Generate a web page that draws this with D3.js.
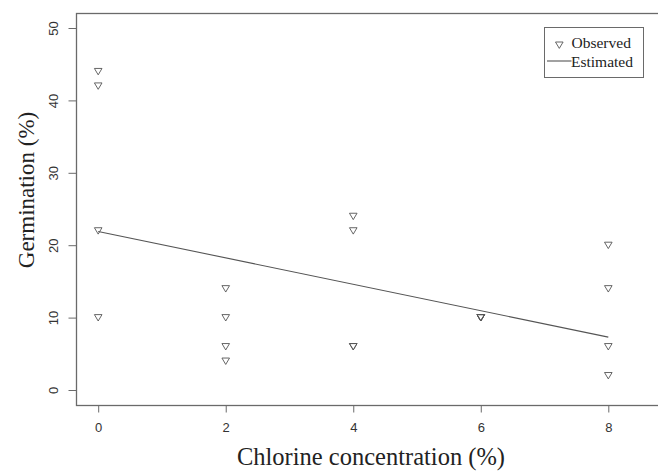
<!DOCTYPE html>
<html>
<head>
<meta charset="utf-8">
<script src="https://cdn.jsdelivr.net/npm/d3@7"></script>
<style>
  body { margin: 0; background: #fff; }
  svg { display: block; }
</style>
</head>
<body>
<svg id="chart" width="658" height="472"></svg>
<script>
// observed germination, one entry per seed lot
var obsX = [0, 0, 0, 0, 2, 2, 2, 2, 4, 4, 4, 4, 6, 6, 6, 6, 8, 8, 8, 8];
var obsY = [44, 42, 22, 10, 14, 10, 6, 4, 24, 22, 6, 6, 10, 10, 10, 10, 20, 14, 6, 2];
// fitted line, end points
var estX = [0, 8];
var estY = [21.9, 7.3];
var xTicks = [0, 2, 4, 6, 8];
var yTicks = [0, 10, 20, 30, 40, 50];

var svg = d3.select('#chart');
var axisCol = '#6a6a6a';

var x = d3.scaleLinear().domain([0, 8]).range([98.2, 608.3]);
var y = d3.scaleLinear().domain([0, 50]).range([390, 28]);

var boxL = 76.5, boxT = 13.5, boxB = 405.5, boxR = 662;

// box (right edge runs off the picture)
svg.append('rect')
  .attr('x', boxL).attr('y', boxT)
  .attr('width', boxR - boxL).attr('height', boxB - boxT)
  .attr('fill', 'none').attr('stroke', axisCol).attr('stroke-width', 1.3);

// x axis
var xAxis = svg.append('g')
  .attr('transform', 'translate(0,' + boxB + ')')
  .call(d3.axisBottom(x).tickValues(xTicks).tickSize(7).tickPadding(10).tickFormat(d3.format('d')));
xAxis.select('.domain').remove();
xAxis.selectAll('line').attr('stroke', axisCol);
xAxis.selectAll('text')
  .attr('fill', '#333').style('font-family', 'Liberation Sans, Arial, sans-serif').style('font-size', '13px');

// y axis
var yAxis = svg.append('g')
  .attr('transform', 'translate(' + boxL + ',0)')
  .call(d3.axisLeft(y).tickValues(yTicks).tickSize(8).tickFormat(d3.format('d')));
yAxis.select('.domain').remove();
yAxis.selectAll('line').attr('stroke', axisCol);
yAxis.selectAll('text')
  .attr('fill', '#333').style('font-family', 'Liberation Sans, Arial, sans-serif').style('font-size', '13px')
  .attr('x', null).attr('dy', null)
  .attr('text-anchor', 'middle')
  .attr('transform', 'translate(-19,0) rotate(-90)')
  .attr('y', 0);

// fitted line
var line = d3.line().x(function(d) { return x(d[0]); }).y(function(d) { return y(d[1]); });
svg.append('path')
  .datum(d3.zip(estX, estY))
  .attr('d', line)
  .attr('fill', 'none').attr('stroke', '#555').attr('stroke-width', 1.1);

// observed points, downward triangles
var tri = 'M-3.8,-3 L3.8,-3 L0,3.4 Z';
svg.append('g').selectAll('path')
  .data(d3.zip(obsX, obsY))
  .join('path')
  .attr('d', tri)
  .attr('transform', function(d) { return 'translate(' + x(d[0]) + ',' + y(d[1]) + ')'; })
  .attr('fill', 'none').attr('stroke', '#555').attr('stroke-width', 0.9);

// axis titles
svg.append('text')
  .attr('x', 371).attr('y', 465)
  .attr('text-anchor', 'middle')
  .style('font-family', 'Liberation Serif, Times New Roman, serif').style('font-size', '24.5px')
  .attr('fill', '#222')
  .text('Chlorine concentration (%)');

svg.append('text')
  .attr('transform', 'translate(34,190) rotate(-90)')
  .attr('text-anchor', 'middle')
  .style('font-family', 'Liberation Serif, Times New Roman, serif').style('font-size', '23px')
  .attr('fill', '#222')
  .text('Germination (%)');

// legend
var lg = svg.append('g');
lg.append('rect')
  .attr('x', 544.5).attr('y', 27.5).attr('width', 99).attr('height', 50)
  .attr('fill', '#fff').attr('stroke', axisCol).attr('stroke-width', 1);
lg.append('path')
  .attr('d', tri)
  .attr('transform', 'translate(559.3,45)')
  .attr('fill', 'none').attr('stroke', '#555').attr('stroke-width', 0.9);
lg.append('line')
  .attr('x1', 547).attr('x2', 571.5).attr('y1', 61).attr('y2', 61)
  .attr('stroke', '#555').attr('stroke-width', 1.1);
lg.selectAll('text')
  .data(['Observed', 'Estimated'])
  .join('text')
  .attr('x', function(d, i) { return i === 0 ? 571.5 : 571; })
  .attr('y', function(d, i) { return 47.5 + i * 19; })
  .style('font-family', 'Liberation Serif, Times New Roman, serif').style('font-size', '15.5px')
  .attr('fill', '#222')
  .text(function(d) { return d; });
</script>
</body>
</html>
